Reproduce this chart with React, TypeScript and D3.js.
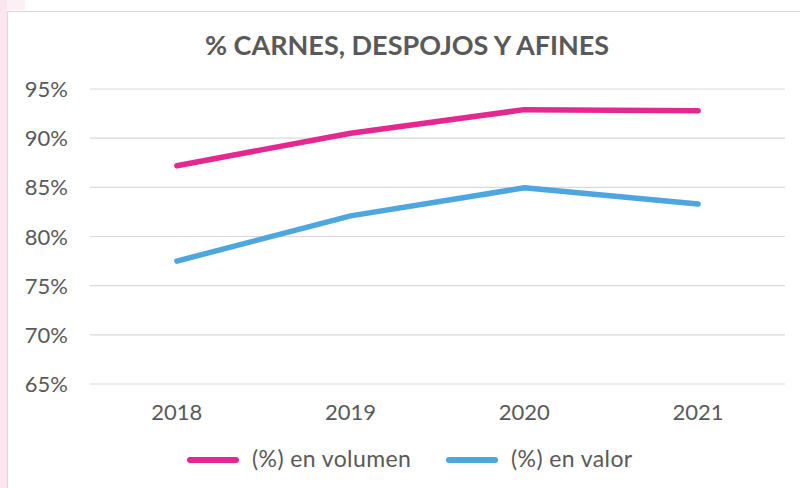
import React from "react";
import * as d3 from "d3";

const years = ["2018", "2019", "2020", "2021"];
const volumen = [87.2, 90.5, 92.9, 92.8];
const valor = [77.5, 82.1, 84.95, 83.3];
const yTicks = [65, 70, 75, 80, 85, 90, 95];
const seriesNames = ["(%) en volumen", "(%) en valor"];
const colors = ["#E3298F", "#4DA6DD"];

export default function App() {
  const W = 800, H = 488;
  const x = d3.scaleBand<string>().domain(years).range([90, 785]);
  const y = d3.scaleLinear().domain([65, 95]).range([384, 89]);
  const line = d3
    .line<number>()
    .x((_, i) => (x(years[i]) as number) + x.bandwidth() / 2)
    .y((d) => y(d));
  const font = "Lato, 'Open Sans', sans-serif";
  const series = [volumen, valor];
  return (
    <svg width={W} height={H} style={{ position: "absolute", left: 0, top: 0 }} fontFamily={font}>
      <rect x={0} y={0} width={W} height={H} fill="#fff" />
      <rect x={0} y={0} width={7} height={H} fill="#FBE6EF" />
      <rect x={7} y={0} width={18} height={10} fill="#FDF0F5" />
      <rect x={7.5} y={11.5} width={W} height={H} fill="#fff" stroke="#D9D9D9" strokeWidth={1} />
      <text x={407} y={55} textAnchor="middle" fontSize={27} fontWeight={700} fill="#595959">
        % CARNES, DESPOJOS Y AFINES
      </text>
      {yTicks.map((t) => (
        <g key={t}>
          <line x1={90} x2={785} y1={y(t)} y2={y(t)} stroke="#D9D9D9" strokeWidth={1.2} />
          <text x={68} y={y(t) + 8} textAnchor="end" fontSize={22} fill="#595959">
            {t}%
          </text>
        </g>
      ))}
      {years.map((yr) => (
        <text key={yr} x={(x(yr) as number) + x.bandwidth() / 2} y={420} textAnchor="middle" fontSize={22} fill="#595959">
          {yr}
        </text>
      ))}
      {series.map((s, i) => (
        <path key={i} d={line(s) || ""} fill="none" stroke={colors[i]} strokeWidth={5.5} strokeLinecap="round" strokeLinejoin="round" />
      ))}
      {seriesNames.map((n, i) => {
        const lx = i === 0 ? 190 : 449;
        return (
          <g key={n}>
            <line x1={lx} x2={lx + 46} y1={460} y2={460} stroke={colors[i]} strokeWidth={6} strokeLinecap="round" />
            <text x={lx + 62} y={467} fontSize={23} letterSpacing={0.4} fill="#595959">
              {n}
            </text>
          </g>
        );
      })}
    </svg>
  );
}
